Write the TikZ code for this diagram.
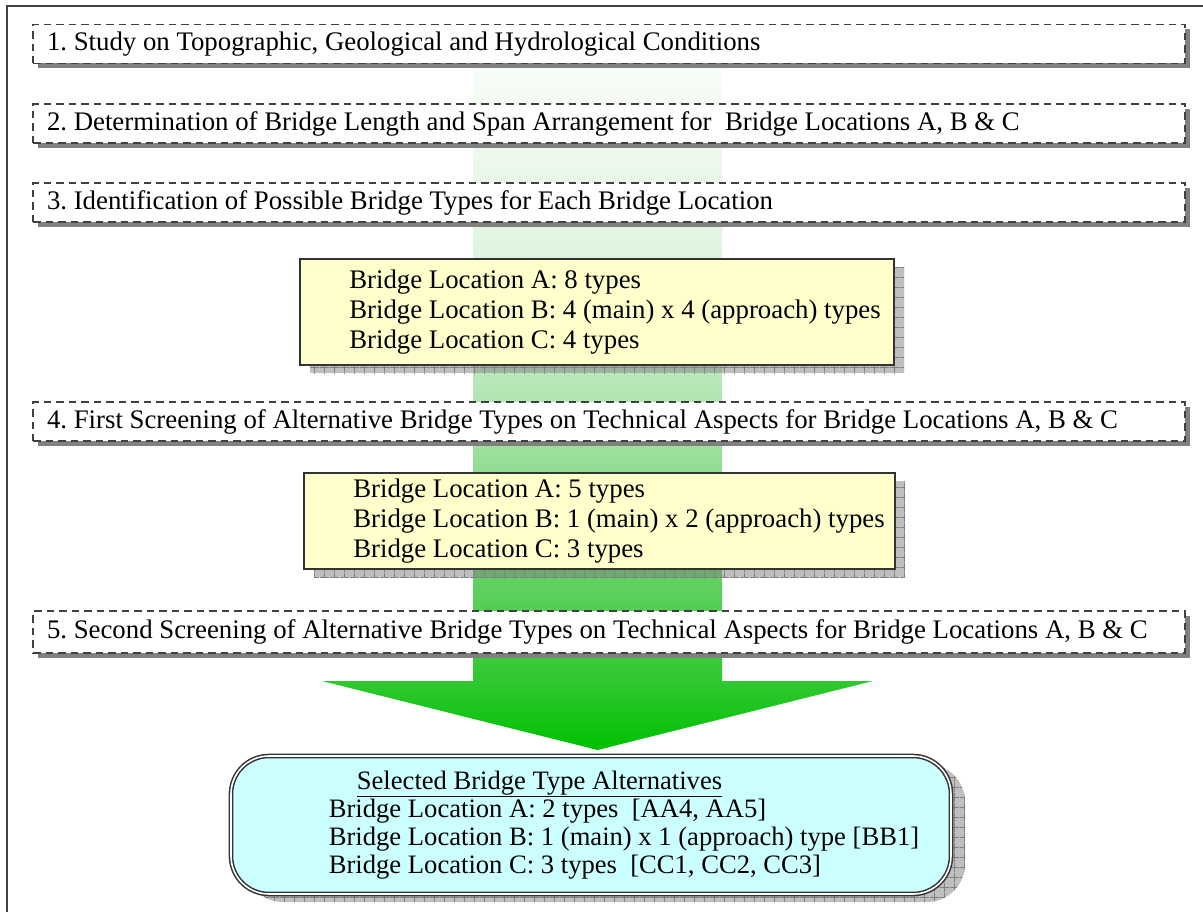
\documentclass[tikz,border=0pt]{standalone}
\usepackage{fontspec}
\setmainfont{Liberation Serif}
\usetikzlibrary{shadows,patterns.meta}

\definecolor{framecol}{HTML}{404040}
\definecolor{boxline}{HTML}{333333}
\definecolor{shadowgray}{HTML}{808080}
\definecolor{yellowfill}{HTML}{FFFFCC}
\definecolor{cyanfill}{HTML}{CCFFFF}
\definecolor{gA}{HTML}{00C000}
\definecolor{gB}{HTML}{30C830}
\definecolor{gC}{HTML}{60D060}
\definecolor{gD}{HTML}{B0E4B0}
\definecolor{gE}{HTML}{E0F4E0}
\definecolor{gF}{HTML}{F8FDF8}

\pgfdeclareverticalshading{greenarrow}{100bp}{color(0bp)=(gA); color(25bp)=(gA); color(30bp)=(gB); color(37bp)=(gC); color(50bp)=(gD); color(61bp)=(gE); color(75bp)=(gF); color(100bp)=(gF)}

\tikzdeclarepattern{
  name=shgrid,
  type=uncolored,
  bottom left={(0pt,0pt)},
  top right={(10pt,10pt)},
  tile size={(10pt,10pt)},
  code={\draw[line width=0.8pt] (0pt,5pt) -- (10pt,5pt) (5pt,0pt) -- (5pt,10pt);}
}

\newcommand\diagfont{\fontsize{26.8pt}{30pt}\selectfont\frenchspacing}
\newcommand\resfont{\fontsize{26.6pt}{28pt}\selectfont\frenchspacing}
\newcommand\steptext[1]{\makebox[1124pt][l]{#1}}

\tikzset{
  stepbox/.style={draw=framecol, line width=1.6pt, dash pattern=on 7.5pt off 5pt,
    fill=white, minimum width=1152pt, minimum height=39pt, inner xsep=14pt,
    inner ysep=0pt, font=\diagfont,
    drop shadow={shadow xshift=5pt, shadow yshift=-5pt, fill=shadowgray, opacity=1}},
  hatchshadow/.style={
    general shadow={shadow xshift=#1, shadow yshift=-8pt, fill=shadowgray, fill opacity=0.5},
    general shadow={shadow xshift=#1, shadow yshift=-8pt, pattern=shgrid, pattern color=shadowgray}},
  yellowbox/.style={draw=boxline, line width=2pt, fill=yellowfill, inner sep=0pt,
    align=left, font=\diagfont, hatchshadow=10pt},
  resultbox/.style={draw=boxline, line width=1.5pt, double=white, double distance=1.6pt,
    fill=cyanfill, rounded corners=38pt, inner sep=0pt, align=left, font=\resfont,
    minimum width=720pt, minimum height=138pt, hatchshadow=14pt},
}

\begin{document}
\begin{tikzpicture}[x=1pt,y=-1pt]
\useasboundingbox (0,0) rectangle (1203,912);

% outer frame
\draw[framecol, line width=2pt] (7,912) -- (7,6) -- (1203,6);

% big green arrow
\shade[shading=greenarrow] (473,60) -- (722,60) -- (722,681) -- (873,681)
  -- (597.5,750) -- (322,681) -- (473,681) -- cycle;

\node[stepbox] (s1) at (609,44)
  {\steptext{1. Study on Topographic, Geological and Hydrological Conditions}};
\node[stepbox] (s2) at (609,123.5)
  {\steptext{2. Determination of Bridge Length and Span Arrangement for\ \ Bridge Locations A, B \& C}};
\node[stepbox] (s3) at (609,202.5)
  {\steptext{3. Identification of Possible Bridge Types for Each Bridge Location}};

\node[yellowbox, minimum width=594pt, minimum height=106pt] (y1) at (597,312)
  {\hspace*{36pt}Bridge Location A: 8 types\\
   \hspace*{36pt}Bridge Location B: 4 (main) x 4 (approach) types\\
   \hspace*{36pt}Bridge Location C: 4 types};

\node[stepbox] (s4) at (609,421.5)
  {\steptext{4. First Screening of Alternative Bridge Types on Technical Aspects for Bridge Locations A, B \& C}};

\node[yellowbox, minimum width=591pt, minimum height=96pt] (y2) at (599.5,521)
  {\hspace*{39pt}Bridge Location A: 5 types\\
   \hspace*{39pt}Bridge Location B: 1 (main) x 2 (approach) types\\
   \hspace*{39pt}Bridge Location C: 3 types};

\node[stepbox, minimum height=42pt] (s5) at (609,632)
  {\steptext{5. Second Screening of Alternative Bridge Types on Technical Aspects for Bridge Locations A, B \& C}};

\node[resultbox] (res) at (591,825)
  {\hspace*{94pt}\underline{Selected Bridge Type Alternatives}\\
   \hspace*{66pt}Bridge Location A: 2 types\ \ [AA4, AA5]\\
   \hspace*{66pt}Bridge Location B: 1 (main) x 1 (approach) type [BB1]\\
   \hspace*{66pt}Bridge Location C: 3 types\ \ [CC1, CC2, CC3]};
\end{tikzpicture}
\end{document}
